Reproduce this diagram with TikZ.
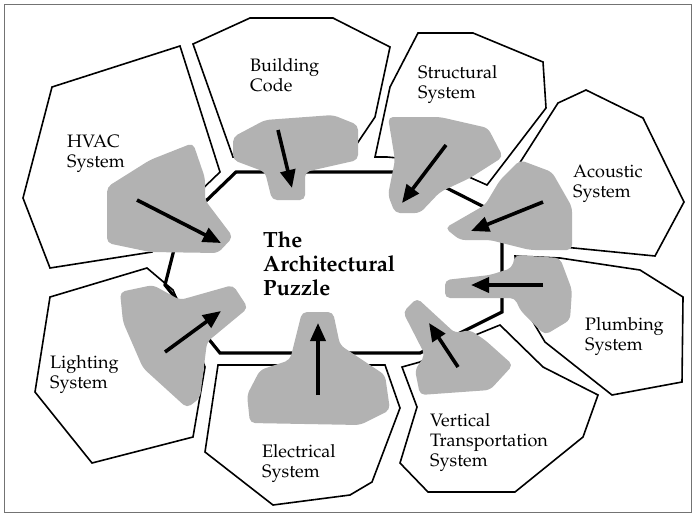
\documentclass[tikz,border=0pt]{standalone}
\usepackage[T1]{fontenc}
\renewcommand{\rmdefault}{ppl}
\usetikzlibrary{arrows.meta}
\begin{document}
\begin{tikzpicture}[x=1pt,y=-1pt,
 poly/.style={draw=black,line width=1.6pt,line join=miter},
 blob/.style={fill=black!30,draw=none,rounded corners=5pt},
 octo/.style={draw=black,line width=3.2pt,line join=miter},
 arr/.style={line width=3.6pt,-{Triangle[length=18pt,width=15pt]}},
 lbl/.style={align=left,anchor=base west,inner sep=0pt,font=\fontsize{18}{20}\selectfont},
 ttl/.style={align=left,anchor=base west,inner sep=0pt,font=\fontsize{22}{24}\selectfont\bfseries}]
\useasboundingbox (0,0) rectangle (695,515);
\draw[black!55,line width=0.8pt] (4,4) rectangle (691,512);
% outer pieces
\draw[poly] (52,87) -- (180,46) -- (220,172) -- (193,198) -- (152,252) -- (50,268) -- (23,198) -- cycle;
\draw[poly] (193,44) -- (250,18) -- (333,18) -- (390,47) -- (375,117) -- (348,157) -- (233,157) -- cycle;
\draw[poly] (418,33) -- (473,33) -- (543,62) -- (546,108) -- (487,185) -- (460,173) -- (420,160) -- (387,157) -- (375,157) -- (390,87) -- cycle;
\draw[poly] (558,103) -- (586,90) -- (643,118) -- (684,202) -- (655,256) -- (513,242) -- (513,233) -- (505,215) -- (512,175) -- cycle;
\draw[poly] (515,256) -- (560,258) -- (640,270) -- (683,297) -- (682,382) -- (612,395) -- (545,342) -- (520,300) -- cycle;
\draw[poly] (402,367) -- (420,362) -- (463,340) -- (500,325) -- (543,367) -- (598,395) -- (583,437) -- (515,492) -- (428,492) -- (400,463) -- (417,407) -- cycle;
\draw[poly] (218,365) -- (385,365) -- (400,408) -- (372,482) -- (350,495) -- (273,505) -- (205,452) -- cycle;
\draw[poly] (50,297) -- (147,268) -- (173,290) -- (185,317) -- (198,348) -- (205,367) -- (193,437) -- (92,463) -- (35,392) -- cycle;
% central puzzle outline
\draw[octo] (236,172) -- (415,172) -- (502,216) -- (502,312) -- (420,353) -- (220,353) -- (165,285) -- (180,226) -- cycle;
% gray patches
\fill[blob] (107,187) -- (150,160) -- (193,143) -- (205,178) -- (205,200) -- (233,237) -- (218,253) -- (150,252) -- (107,243) -- cycle;
\fill[blob] (233,137) -- (265,120) -- (333,115) -- (358,125) -- (358,160) -- (305,172) -- (305,200) -- (272,200) -- (265,172) -- (233,160) -- cycle;
\fill[blob] (388,117) -- (440,117) -- (488,128) -- (503,157) -- (470,178) -- (440,192) -- (420,213) -- (395,213) -- (388,195) -- (395,160) -- cycle;
\fill[blob] (445,228) -- (485,205) -- (500,180) -- (520,160) -- (552,172) -- (572,207) -- (572,250) -- (530,250) -- (490,240) -- (460,240) -- cycle;
\fill[blob] (445,280) -- (490,275) -- (512,268) -- (515,255) -- (560,258) -- (572,290) -- (570,320) -- (545,335) -- (520,310) -- (515,298) -- (445,298) -- cycle;
\fill[blob] (403,312) -- (417,298) -- (455,333) -- (470,330) -- (485,340) -- (513,365) -- (490,390) -- (420,395) -- (415,370) -- (425,355) -- cycle;
\fill[blob] (302,312) -- (333,312) -- (340,345) -- (385,375) -- (390,410) -- (360,425) -- (250,423) -- (247,395) -- (260,370) -- (290,360) -- cycle;
\fill[blob] (120,292) -- (153,285) -- (180,300) -- (233,285) -- (248,308) -- (207,342) -- (200,398) -- (187,408) -- (143,368) -- (123,322) -- cycle;
% arrow ends
\coordinate (bcA) at (278,130); \coordinate (bcB) at (292,188);
\coordinate (hvA) at (137,200); \coordinate (hvB) at (221,243);
\coordinate (stA) at (446,145); \coordinate (stB) at (402,203);
\coordinate (acA) at (543,202); \coordinate (acB) at (471,231);
\coordinate (plA) at (543,285); \coordinate (plB) at (471,285);
\coordinate (vtA) at (458,367); \coordinate (vtB) at (429,323);
\coordinate (elA) at (318,395); \coordinate (elB) at (318,323);
\coordinate (liA) at (165,352); \coordinate (liB) at (221,311);
\draw[arr] (bcA) -- (bcB);
\draw[arr] (hvA) -- (hvB);
\draw[arr] (stA) -- (stB);
\draw[arr] (acA) -- (acB);
\draw[arr] (plA) -- (plB);
\draw[arr] (vtA) -- (vtB);
\draw[arr] (elA) -- (elB);
\draw[arr] (liA) -- (liB);
% labels (anchor at baseline of last line)
\node[lbl] (hvac) at (67,167) {HVAC\\System};
\node[lbl] (bcode) at (250,91) {Building\\Code};
\node[lbl] (struct) at (418,98) {Structural\\System};
\node[lbl] (acou) at (573,197) {Acoustic\\System};
\node[lbl] (plumb) at (585,350) {Plumbing\\System};
\node[lbl] (vert) at (430,466) {Vertical\\Transportation\\System};
\node[lbl] (elec) at (262,477) {Electrical\\System};
\node[lbl] (light) at (50,388) {Lighting\\System};
\node[ttl] (title) at (263,295) {The\\Architectural\\Puzzle};
\end{tikzpicture}
\end{document}
